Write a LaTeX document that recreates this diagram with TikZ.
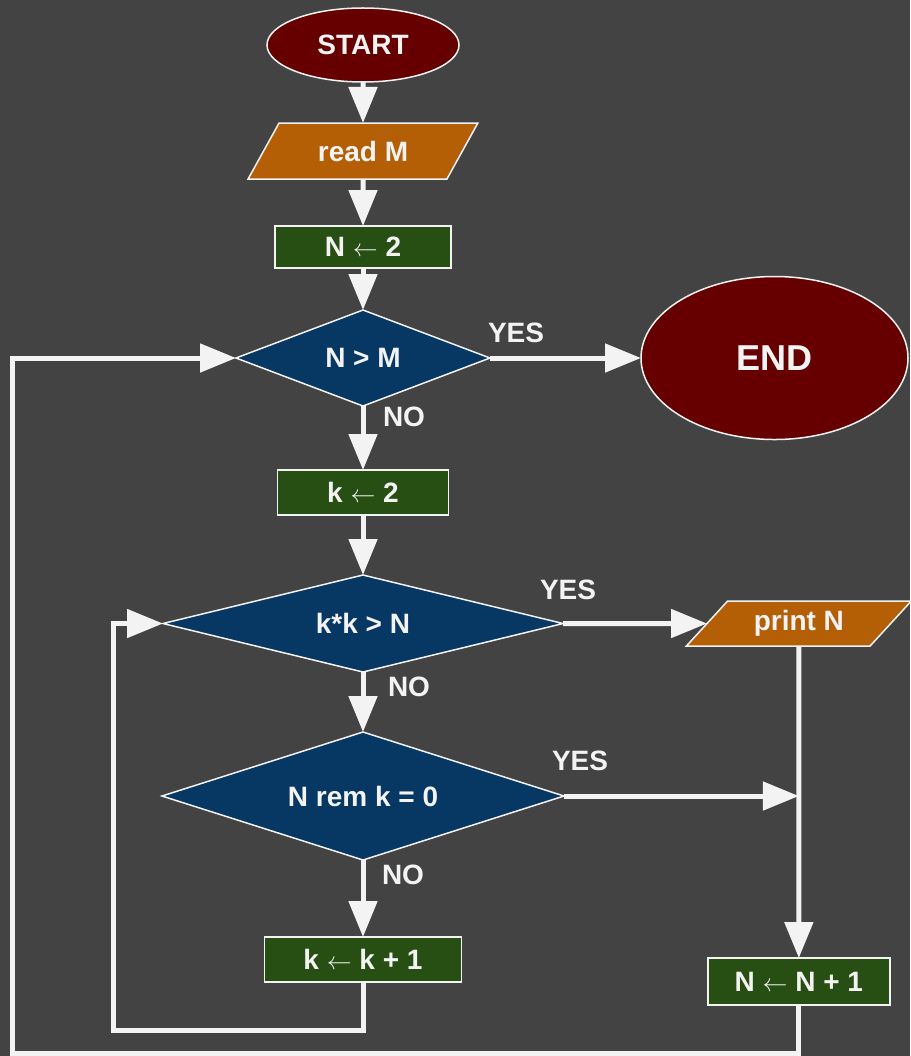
\documentclass[tikz,border=0pt]{standalone}
\usepackage{fontspec}
\setmainfont{Liberation Sans}
\usepackage{xcolor}
\usetikzlibrary{shapes.geometric, arrows.meta, positioning}
\definecolor{bgcol}{HTML}{434343}
\definecolor{linecol}{HTML}{F3F3F3}
\definecolor{termcol}{HTML}{660000}
\definecolor{iocol}{HTML}{B45F06}
\definecolor{proccol}{HTML}{274E13}
\definecolor{deccol}{HTML}{073763}
\tikzset{
    flow/.style={draw=linecol, line width=5pt, -{Triangle[length=36pt, width=28pt]}},
    base/.style={draw=linecol, line width=1.5pt, text=linecol, inner sep=0pt, outer sep=0pt, font=\fontsize{28}{30}\selectfont\bfseries},
    term/.style={base, ellipse, fill=termcol},
    io/.style={base, trapezium, trapezium stretches=true, fill=iocol},
    proc/.style={base, rectangle, fill=proccol},
    dec/.style={base, diamond, shape aspect=3, fill=deccol},
    lbl/.style={text=linecol, inner sep=0pt, outer sep=0pt, font=\fontsize{28}{30}\selectfont\bfseries}
}
\begin{document}
\begin{tikzpicture}[x=1pt, y=1pt]
    \useasboundingbox (0,0) rectangle (910,-1056);
    \fill [bgcol] (0,0) rectangle (910,-1056);
    % main column
    \node (start) [term, minimum width=192pt, minimum height=74pt] at (363,-45) {START};
    \node (read) [io, trapezium left angle=51, trapezium right angle=129, minimum width=230pt, minimum height=56pt, below=41pt of start] {read M};
    \node (n2) [proc, minimum width=176pt, minimum height=42pt, below=47pt of read] {N $\leftarrow$ 2};
    \node (nm) [dec, minimum width=254pt, minimum height=96pt, below=42pt of n2] {N > M};
    \node (k2) [proc, minimum width=171pt, minimum height=45pt, below=64pt of nm] {k $\leftarrow$ 2};
    \node (kk) [dec, minimum width=400pt, minimum height=97pt, below=60pt of k2] {k*k > N};
    \node (rem) [dec, minimum width=402pt, minimum height=128pt, below=60pt of kk] {N rem k = 0};
    \node (kinc) [proc, minimum width=197pt, minimum height=45pt, below=77pt of rem] {k $\leftarrow$ k + 1};
    % right side
    \node (end) [term, minimum width=267pt, minimum height=163pt, font=\fontsize{36}{40}\selectfont\bfseries, right=151pt of nm] {END};
    \node (print) [io, trapezium left angle=45, trapezium right angle=135, minimum width=225pt, minimum height=45pt, right=144pt of kk] {print N};
    \node (ninc) [proc, minimum width=182pt, minimum height=47pt, below=312pt of print] {N $\leftarrow$ N + 1};
    \coordinate (join) at (rem.east -| print.south);
    \coordinate (inner) at (113,-1030);
    \coordinate (outer) at (12,-1053);
    % connectors
    \draw [flow] (start) -- (read);
    \draw [flow] (read) -- (n2);
    \draw [flow] (n2) -- (nm);
    \draw [flow] (nm) -- (k2);
    \draw [flow] (k2) -- (kk);
    \draw [flow] (kk) -- (rem);
    \draw [flow] (rem) -- (kinc);
    \draw [flow] (nm) -- (end);
    \draw [flow] (kk) -- (print);
    \draw [flow] (print) -- (ninc);
    \draw [flow] (rem.east) -- (join);
    \draw [flow] (kinc.south) |- (inner) |- (kk.west);
    \draw [flow] (ninc.south) |- (outer) |- (nm.west);
    % labels
    \node (yes1) [lbl, above right=15pt and -2pt of nm.east] {YES};
    \node (no1) [lbl, below right=1pt and 20pt of nm.south] {NO};
    \node (yes2) [lbl, above right=24pt and -23pt of kk.east] {YES};
    \node (no2) [lbl, below right=5pt and 25pt of kk.south] {NO};
    \node (yes3) [lbl, above right=25pt and -12pt of rem.east] {YES};
    \node (no3) [lbl, below right=5pt and 19pt of rem.south] {NO};
\end{tikzpicture}
\end{document}
